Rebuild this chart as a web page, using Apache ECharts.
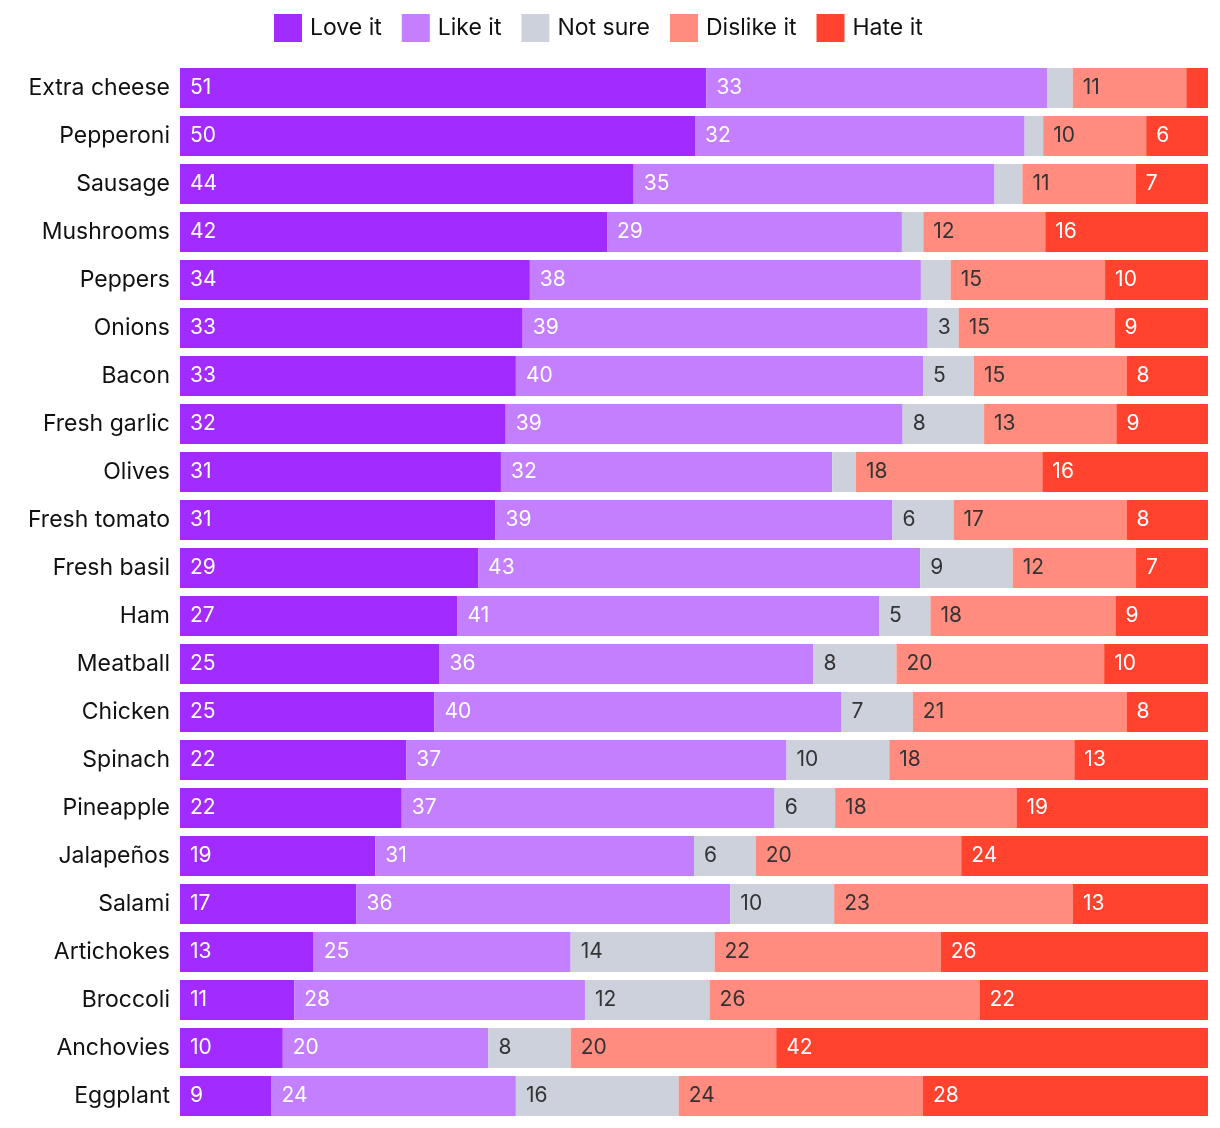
<!DOCTYPE html>
<html>
<head>
<meta charset="utf-8">
<script src="https://cdn.jsdelivr.net/npm/echarts@6/dist/echarts.min.js"></script>
<style>
html,body{margin:0;padding:0;background:#fff;}
#c{width:1220px;height:1128px;}
</style>
</head>
<body>
<div id="c"></div>
<script>
var categories = ["Extra cheese","Pepperoni","Sausage","Mushrooms","Peppers","Onions","Bacon","Fresh garlic","Olives","Fresh tomato","Fresh basil","Ham","Meatball","Chicken","Spinach","Pineapple","Jalapeños","Salami","Artichokes","Broccoli","Anchovies","Eggplant"];
var seriesNames = ["Love it","Like it","Not sure","Dislike it","Hate it"];
var loveIt    = [51,50,44,42,34,33,33,32,31,31,29,27,25,25,22,22,19,17,13,11,10,9];
var likeIt    = [33,32,35,29,38,39,40,39,32,39,43,41,36,40,37,37,31,36,25,28,20,24];
var notSure   = [2.5,1.8,2.7,2.1,2.9,3,5,8,2.3,6,9,5,8,7,10,6,6,10,14,12,8,16];
var dislikeIt = [11,10,11,12,15,15,15,13,18,17,12,18,20,21,18,18,20,23,22,26,20,24];
var hateIt    = [2.1,6,7,16,10,9,8,9,16,8,7,9,10,8,13,19,24,13,26,22,42,28];

var raw = [loveIt, likeIt, notSure, dislikeIt, hateIt];
var colors = ["#A22BFF","#C47FFF","#CDD1DB","#FF8C7F","#FF432E"];
var textColors = ["#ffffff","#ffffff","#333333","#333333","#ffffff"];
var FONT = "Inter, 'Noto Sans', sans-serif";

var totals = categories.map(function(_, i){
  return raw.reduce(function(s, arr){ return s + arr[i]; }, 0);
});

var series = raw.map(function(arr, s){
  return {
    name: seriesNames[s],
    type: 'bar',
    stack: 'all',
    barWidth: 40,
    itemStyle: {color: colors[s]},
    data: arr.map(function(v, i){ return v / totals[i] * 100; }),
    label: {
      show: true,
      position: 'insideLeft',
      distance: 10,
      color: textColors[s],
      fontFamily: FONT,
      fontSize: 21,
      formatter: function(p){
        var v = raw[s][p.dataIndex];
        return v >= 3 ? String(Math.round(v)) : '';
      }
    },
    emphasis: {disabled: true}
  };
});

var chart = echarts.init(document.getElementById('c'), null, {renderer: 'canvas'});
chart.setOption({
  animation: false,
  legend: {
    data: seriesNames,
    top: 14,
    left: 274,
    padding: 0,
    itemWidth: 28,
    itemHeight: 28,
    itemGap: 20,
    icon: 'rect',
    textStyle: {fontFamily: FONT, fontSize: 23, color: '#111', padding: [0,0,0,3]}
  },
  grid: {left: 180, right: 12, top: 64, bottom: 8, containLabel: false},
  xAxis: {
    type: 'value', min: 0, max: 100, show: false
  },
  yAxis: {
    type: 'category',
    data: categories,
    inverse: true,
    axisLine: {show: false},
    axisTick: {show: false},
    axisLabel: {fontFamily: FONT, fontSize: 23, color: '#111', margin: 10}
  },
  series: series
});
</script>
</body>
</html>
